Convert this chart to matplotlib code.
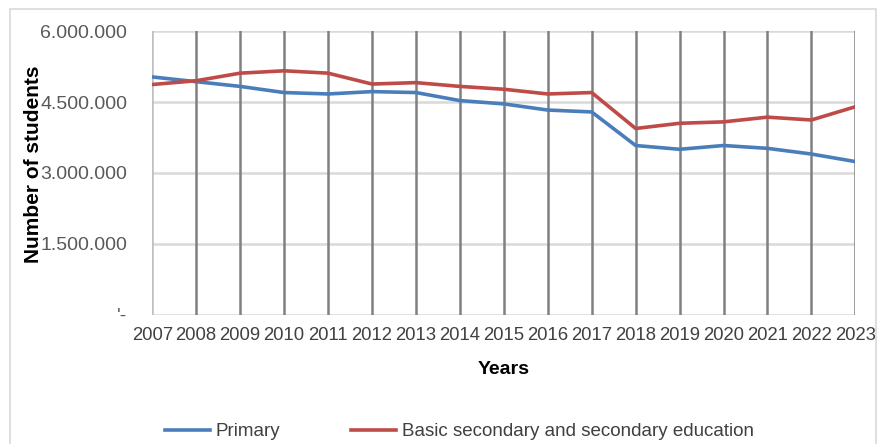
import matplotlib.pyplot as plt
from matplotlib.patches import Rectangle

plt.rcParams['font.family'] = ['Liberation Sans', 'DejaVu Sans']

years = list(range(2007, 2024))
primary = [5.03, 4.93, 4.83, 4.70, 4.67, 4.72, 4.70, 4.53, 4.46, 4.33, 4.29,
           3.58, 3.50, 3.58, 3.52, 3.40, 3.24]
secondary = [4.87, 4.95, 5.11, 5.16, 5.11, 4.88, 4.91, 4.83, 4.77, 4.67, 4.70,
             3.94, 4.05, 4.08, 4.18, 4.12, 4.40]
primary = [v * 1e6 for v in primary]
secondary = [v * 1e6 for v in secondary]
yticks = [0, 1.5e6, 3e6, 4.5e6, 6e6]
ylabels = ["'-", '1.500.000', '3.000.000', '4.500.000', '6.000.000']

fig = plt.figure(figsize=(8.8, 4.44), dpi=100)
ax = fig.add_axes([0.173, 0.291, 0.799, 0.639])

# horizontal light gridlines, vertical dark lines at each year
for y in yticks:
    ax.axhline(y, color='#d9d9d9', lw=1.8, zorder=1)
for x in years[1:]:
    ax.axvline(x, color='#808080', lw=1.8, zorder=1)
ax.axvline(years[0], color='#bfbfbf', lw=1.8, zorder=1)

ax.plot(years, primary, color='#4a7ebb', lw=2.6, label='Primary', zorder=3)
ax.plot(years, secondary, color='#be4b48', lw=2.6,
        label='Basic secondary and secondary education', zorder=3)

ax.set_xlim(2007, 2023)
ax.set_ylim(0, 6e6)
ax.set_xticks(years)
ax.set_xticklabels([str(y) for y in years], fontsize=13.3, color='#404040')
ax.set_yticks(yticks)
ax.set_yticklabels(ylabels, fontsize=14, color='#595959')
ax.tick_params(length=0, pad=18)
ax.tick_params(axis='x', pad=9)
for s in ax.spines.values():
    s.set_visible(False)

ax.set_ylabel('Number of students', fontsize=15, fontweight='bold')
ax.yaxis.set_label_coords(-0.155, 0.53)
ax.set_xlabel('Years', fontsize=14, fontweight='bold', labelpad=12)

fig.legend(loc='lower center', bbox_to_anchor=(0.522, -0.03), ncol=2, frameon=False,
           fontsize=13.5, handlelength=2.4, columnspacing=3.8, handletextpad=0.3,
           labelcolor='#404040')

fig.patches.append(Rectangle((0.011, -0.01), 0.985, 0.99, transform=fig.transFigure,
                             fill=False, edgecolor='#d9d9d9', lw=1.2))

fig.savefig('out.png', dpi=100)
